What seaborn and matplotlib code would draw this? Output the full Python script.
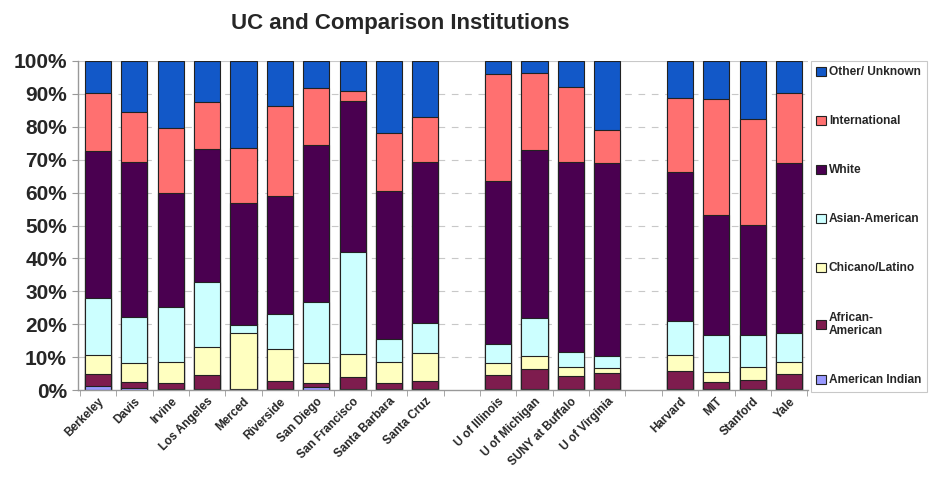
import matplotlib
matplotlib.use("Agg")
import matplotlib.pyplot as plt
import matplotlib.patches as mpatches
import numpy as np
import pandas as pd
import seaborn as sns

institutions = [
    "Berkeley", "Davis", "Irvine", "Los Angeles", "Merced", "Riverside",
    "San Diego", "San Francisco", "Santa Barbara", "Santa Cruz", " ",
    "U of Illinois", "U of Michigan", "SUNY at Buffalo", "U of Virginia", "  ",
    "Harvard", "MIT", "Stanford", "Yale",
]
groups = ["American Indian", "African-American", "Chicano/Latino",
          "Asian-American", "White", "International", "Other/ Unknown"]

# percent shares per group (gap slots are zero)
american_indian = [1.2, 0.5, 0.3, 0.3, 0.1, 0.3, 1.0, 0.3, 0.3, 0.3, 0,
                   0.2, 0.3, 0.3, 0.3, 0, 0.3, 0.3, 0.3, 0.3]
african_american = [3.7, 2.0, 1.9, 4.3, 0.2, 2.4, 1.2, 3.6, 1.7, 2.4, 0,
                    4.4, 6.0, 4.1, 4.8, 0, 5.6, 2.2, 2.7, 4.6]
chicano_latino = [5.8, 5.8, 6.4, 8.6, 16.9, 9.8, 6.1, 7.0, 6.4, 8.4, 0,
                  3.5, 4.0, 2.7, 1.5, 0, 4.7, 3.1, 4.1, 3.7]
asian_american = [17.2, 14.0, 16.7, 19.5, 2.6, 10.5, 18.5, 30.9, 7.1, 9.4, 0,
                  5.9, 11.5, 4.6, 3.7, 0, 10.5, 11.1, 9.6, 8.8]
white = [44.7, 46.9, 34.5, 40.5, 36.9, 36.0, 47.7, 46.0, 45.0, 48.9, 0,
         49.6, 51.1, 57.7, 58.6, 0, 45.3, 36.5, 33.5, 51.5]
international = [17.6, 15.4, 19.7, 14.2, 16.8, 27.3, 17.2, 3.1, 17.7, 13.7, 0,
                 32.3, 23.6, 22.6, 10.1, 0, 22.3, 35.2, 32.2, 21.3]
other_unknown = [9.8, 15.4, 20.5, 12.6, 26.5, 13.7, 8.3, 9.1, 21.8, 16.9, 0,
                 4.1, 3.5, 8.0, 21.0, 0, 11.3, 11.6, 17.6, 9.8]

colors = ["#9999FF", "#7E1C4E", "#FFFFC0", "#CCFFFF", "#4A0050", "#FF7070", "#1258C8"]

df = pd.DataFrame({
    "institution": institutions,
    "American Indian": american_indian,
    "African-American": african_american,
    "Chicano/Latino": chicano_latino,
    "Asian-American": asian_american,
    "White": white,
    "International": international,
    "Other/ Unknown": other_unknown,
})
shares = df[groups]
totals = shares.sum(axis=1)
pct = shares.div(totals.replace(0, 1), axis=0) * 100
cum = pct.cumsum(axis=1)
cum.loc[totals == 0] = np.nan  # gap slots: no bar at all
cum["institution"] = institutions

sns.set_style("white")
plt.rcParams["font.family"] = ["Liberation Sans", "DejaVu Sans"]

fig = plt.figure(figsize=(9.3, 4.87), dpi=100)
ax = fig.add_axes([78 / 930, 97 / 487, 730 / 930, 329 / 487])

for y in range(10, 110, 10):
    ax.axhline(y, color="#c8c8c8", lw=0.8, ls=(0, (6, 6)) if y < 100 else "-", zorder=0)

# draw cumulative totals tallest first so each layer shows its own segment
for g, c in reversed(list(zip(groups, colors))):
    sns.barplot(data=cum, x="institution", y=g, order=institutions, color=c,
                width=0.72, edgecolor="#222222", linewidth=0.8, saturation=1,
                ax=ax, zorder=2)

ax.set_xlim(-0.55, 19.52)
ax.set_ylim(0, 100)
ax.set_xlabel("")
ax.set_ylabel("")
ax.set_yticks(range(0, 101, 10))
ax.set_yticklabels([f"{v}%" for v in range(0, 101, 10)], fontsize=15, fontweight="bold")
ax.set_xticks(range(len(institutions)))
ax.set_xticklabels(institutions, rotation=45, ha="right", rotation_mode="anchor",
                   fontsize=8.5, fontweight="bold")
ax.tick_params(axis="x", length=0, pad=4)
ax.tick_params(axis="y", length=4, color="#999999", pad=4, left=True)
ax.set_xticks(np.arange(-0.5, len(institutions), 1), minor=True)
ax.tick_params(axis="x", which="minor", length=4, color="#999999", bottom=True)
for s in ["top", "right"]:
    ax.spines[s].set_visible(False)
for s in ["left", "bottom"]:
    ax.spines[s].set_color("#999999")
    ax.spines[s].set_linewidth(1)

legend_labels = ["Other/ Unknown", "International", "White", "Asian-American",
                 "Chicano/Latino", "African-\nAmerican", "American Indian"]
handles = [mpatches.Patch(facecolor=c, edgecolor="#222222", linewidth=0.8)
           for c in reversed(colors)]
leg = fig.legend(handles, legend_labels, loc="upper left",
                 bbox_to_anchor=(811 / 930, 1 - 61 / 487), frameon=True,
                 prop={"weight": "bold", "size": 8.6}, handlelength=0.8,
                 handleheight=0.8, handletextpad=0.25, labelspacing=3.1,
                 borderpad=0.45, borderaxespad=0, fancybox=False)
leg.get_frame().set_edgecolor("#bbbbbb")
leg.get_frame().set_linewidth(0.8)

fig.text(400 / 930, 1 - 24 / 487, "UC and Comparison Institutions",
         ha="center", va="center", fontsize=16, fontweight="bold")

fig.savefig("out.png", dpi=100, facecolor="white")
